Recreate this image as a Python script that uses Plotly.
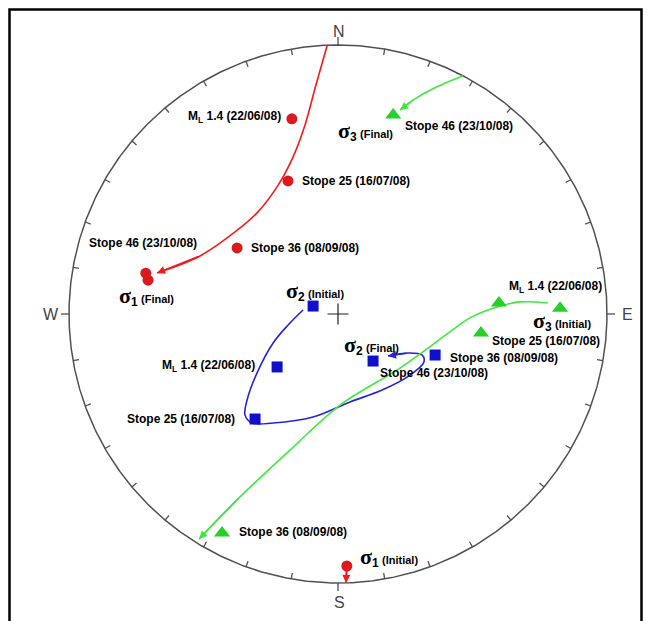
import numpy as np
import plotly.graph_objects as go

# ---------------------------------------------------------------------------
# Principal stress orientations, lower-hemisphere, trend / plunge in degrees
# ---------------------------------------------------------------------------
EVENTS = ["M<sub>L</sub> 1.4 (22/06/08)", "Stope 25 (16/07/08)",
          "Stope 36 (08/09/08)", "Stope 46 (23/10/08)"]

S1_INITIAL = [178.0, 3.7]
S1_FINAL = [280.1, 18.7]
S1_TREND = [346.7, 339.4, 303.2, 282.0]
S1_PLUNGE = [16.6, 34.3, 41.7, 17.7]

S2_INITIAL = [287.7, 78.9]
S2_TREND = [229.0, 218.3, 112.9, 143.3]
S2_PLUNGE = [56.6, 37.1, 47.2, 65.4]

S3_INITIAL = [88.5, 10.9]
S3_TREND = [86.1, 97.6, 207.9, 15.5]
S3_PLUNGE = [28.1, 33.6, 4.7, 15.0]

# Rotation paths of each axis (trend / plunge waypoints)
S1_PATH_S_TREND = [178.0, 178.3]
S1_PATH_S_PLUNGE = [3.7, 0.0]
S1_PATH_N_TREND = [357.7, 354.5, 350.1, 344.0, 335.1, 321.9, 311.3, 292.8, 282.8]
S1_PATH_N_PLUNGE = [0.0, 8.9, 19.0, 27.5, 34.3, 38.5, 38.3, 31.8, 20.8]

S2_PATH_TREND = [276.5, 257.6, 245.9, 233.9, 226.6, 222.6, 218.3, 210.8,
                 193.6, 172.2, 149.9, 130.3, 119.2, 116.0, 119.1, 130.0]
S2_PATH_PLUNGE = [75.1, 68.5, 60.4, 49.1, 40.1, 35.9, 35.4, 39.5,
                  47.0, 53.5, 53.8, 51.3, 49.8, 51.7, 56.8, 62.7]

S3_PATH_E_TREND = [87.0, 86.2, 87.5, 91.7, 99.1, 131.1, 178.7, 199.4, 208.2, 211.7]
S3_PATH_E_PLUNGE = [14.0, 21.7, 28.8, 37.7, 44.3, 56.0, 52.6, 33.6, 14.7, 1.0]
S3_PATH_NE_TREND = [27.7, 23.2, 19.7, 16.9]
S3_PATH_NE_PLUNGE = [0.0, 5.1, 9.3, 13.2]

COMPASS = ["N", "E", "S", "W"]
COMPASS_AZ = [0, 90, 180, 270]
TICK_AZ = list(range(0, 360, 10))

# ---------------------------------------------------------------------------
# Page geometry: net radius and centre in pixels
# ---------------------------------------------------------------------------
W, H = 651, 621
R_PX, CX, CY = 269.0, 338.0, 314.0
PX = 1.0 / R_PX  # one pixel in net units

RED_LINE, RED_PT = "#f41a1a", "#dc1a1e"
GRN_LINE, GRN_PT = "#3ee83e", "#26d026"
BLU_LINE, BLU_PT = "#2424dc", "#1010cc"
NET = "#505050"
FONT = "Liberation Sans, Arial, sans-serif"


def proj(trend, plunge):
    """Equal-angle (stereographic) lower-hemisphere projection."""
    t = np.radians(np.asarray(trend, float))
    p = np.radians(np.asarray(plunge, float))
    r = np.tan((np.pi / 2 - p) / 2)
    return r * np.sin(t), r * np.cos(t)


fig = go.Figure()

# Primitive circle
az = np.linspace(0, 360, 721)
cx, cy = proj(az, np.zeros_like(az))
fig.add_trace(go.Scatter(x=cx, y=cy, mode="lines",
                         line=dict(color=NET, width=1.5), hoverinfo="skip"))

# Ticks every 10 degrees (cardinal ticks point outward)
tx, ty = [], []
for a in TICK_AZ:
    s, c = np.sin(np.radians(a)), np.cos(np.radians(a))
    if a % 90 == 0:
        r0, r1 = 1.0, 1.0 + 8 * PX
    else:
        r0, r1 = 1.0, 1.0 - 6 * PX
    tx += [r0 * s, r1 * s, None]
    ty += [r0 * c, r1 * c, None]
fig.add_trace(go.Scatter(x=tx, y=ty, mode="lines",
                         line=dict(color=NET, width=1.3), hoverinfo="skip"))

# Centre cross
ox, oy = proj([0.0], [90.0])
fig.add_trace(go.Scatter(x=ox, y=oy, mode="markers",
                         marker=dict(symbol="cross-thin", size=15,
                                     line=dict(color="#222222", width=1.2))))


def add_path(trends, plunges, color):
    x, y = proj(trends, plunges)
    fig.add_trace(go.Scatter(x=x, y=y, mode="lines",
                             line=dict(color=color, width=1.6, shape="spline",
                                       smoothing=1.0),
                             hoverinfo="skip"))
    # arrowhead at the end of the path
    fig.add_annotation(x=x[-1], y=y[-1], ax=x[-2], ay=y[-2],
                       xref="x", yref="y", axref="x", ayref="y",
                       text="", showarrow=True, arrowhead=2, arrowsize=1.0,
                       arrowwidth=1.6, arrowcolor=color, standoff=0)


add_path(S1_PATH_S_TREND, S1_PATH_S_PLUNGE, RED_LINE)
add_path(S1_PATH_N_TREND, S1_PATH_N_PLUNGE, RED_LINE)
add_path(S2_PATH_TREND, S2_PATH_PLUNGE, BLU_LINE)
add_path(S3_PATH_E_TREND, S3_PATH_E_PLUNGE, GRN_LINE)
add_path(S3_PATH_NE_TREND, S3_PATH_NE_PLUNGE, GRN_LINE)

# Stress axis markers
s1t = [S1_INITIAL[0]] + S1_TREND + [S1_FINAL[0]]
s1p = [S1_INITIAL[1]] + S1_PLUNGE + [S1_FINAL[1]]
s2t = [S2_INITIAL[0]] + S2_TREND
s2p = [S2_INITIAL[1]] + S2_PLUNGE
s3t = [S3_INITIAL[0]] + S3_TREND
s3p = [S3_INITIAL[1]] + S3_PLUNGE

for t, p, sym, size, col in [(s1t, s1p, "circle", 11, RED_PT),
                             (s2t, s2p, "square", 11, BLU_PT),
                             (s3t, s3p, "triangle-up", 14, GRN_PT)]:
    x, y = proj(t, p)
    fig.add_trace(go.Scatter(x=x, y=y, mode="markers",
                             marker=dict(symbol=sym, size=size, color=col,
                                         line=dict(width=0))))


def sigma(n, state):
    return ("<span style='font-family:Liberation Serif;font-size:22px'>σ</span>"
            f"<sub><span style='font-size:12px'>{n}</span></sub>"
            f" <span style='font-size:11px'>({state})</span>")


def label(tp, text, anchor, dx, dy):
    x, y = proj([tp[0]], [tp[1]])
    fig.add_annotation(x=x[0], y=y[0], xref="x", yref="y",
                       text=f"<b>{text}</b>",
                       showarrow=False, xanchor=anchor,
                       xshift=dx, yshift=dy,
                       font=dict(family=FONT, size=12, color="black"))


# Label placement (anchor, x shift, y shift) per event
S1_LAB = [("right", -9, 2), ("left", 12, 0), ("left", 12, 0), ("center", -3, 30)]
S2_LAB = [("right", -20, 1), ("right", -18, 0), ("left", 13, -3), ("left", 5, -12)]
S3_LAB = [("left", 8, 16), ("left", 9, -8), ("left", 15, 1), ("left", 10, -11)]

for i, ev in enumerate(EVENTS):
    label((S1_TREND[i], S1_PLUNGE[i]), ev, *S1_LAB[i])
    label((S2_TREND[i], S2_PLUNGE[i]), ev, *S2_LAB[i])
    label((S3_TREND[i], S3_PLUNGE[i]), ev, *S3_LAB[i])

label(S1_INITIAL, sigma(1, "Initial"), "left", 11, 9)
label(S1_FINAL, sigma(1, "Final"), "center", -2, -16)
label(S2_INITIAL, sigma(2, "Initial"), "center", 2, 15)
label((S2_TREND[3], S2_PLUNGE[3]), sigma(2, "Final"), "center", -2, 16)
label(S3_INITIAL, sigma(3, "Initial"), "center", 2, -13)
label((S3_TREND[3], S3_PLUNGE[3]), sigma(3, "Final"), "center", -28, -16)

# Compass letters
shift = {"N": (1, 14), "E": (20, 0), "S": (1, -19), "W": (-18, 0)}
for name, a in zip(COMPASS, COMPASS_AZ):
    x, y = proj([a], [0.0])
    fig.add_annotation(x=x[0], y=y[0], xref="x", yref="y", text=name,
                       showarrow=False, xshift=shift[name][0],
                       yshift=shift[name][1],
                       font=dict(family=FONT, size=16, color="#444444"))

# Outer frame
fig.add_shape(type="rect", xref="paper", yref="paper",
              x0=9.5 / W, x1=641.5 / W, y0=-0.02, y1=1 - 9.5 / H,
              line=dict(color="black", width=2.5))

fig.update_layout(
    width=W, height=H, autosize=False,
    margin=dict(l=0, r=0, t=0, b=0),
    paper_bgcolor="white", plot_bgcolor="white",
    showlegend=False,
    xaxis=dict(range=[-CX / R_PX, (W - CX) / R_PX], visible=False,
               fixedrange=True),
    yaxis=dict(range=[(CY - H) / R_PX, CY / R_PX], visible=False,
               fixedrange=True),
)

fig.write_html("out.html")
